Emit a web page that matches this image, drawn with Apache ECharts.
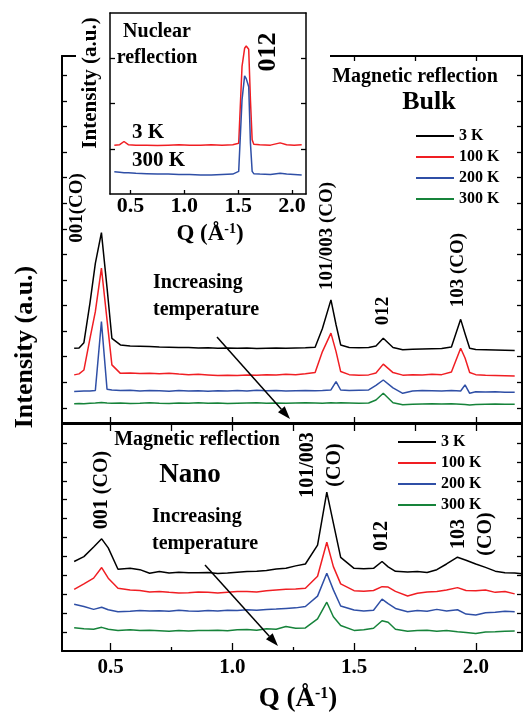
<!DOCTYPE html>
<html>
<head>
<meta charset="utf-8">
<script src="https://cdn.jsdelivr.net/npm/echarts@6/dist/echarts.min.js"></script>
<style>
html, body { margin: 0; padding: 0; background: #fff; }
#chart { width: 523px; height: 713px; }
</style>
</head>
<body>
<div id="chart"></div>
<script>
// values, arbitrary units (curves keep their vertical offsets)
const bulkQ = [0.35, 0.37, 0.39, 0.415, 0.437, 0.462, 0.485, 0.505, 0.54, 0.58,
  0.62, 0.66, 0.70, 0.74, 0.78, 0.82, 0.86, 0.90, 0.94, 0.98,
  1.02, 1.06, 1.10, 1.14, 1.18, 1.22, 1.26, 1.30, 1.34, 1.37,
  1.405, 1.426, 1.445, 1.48, 1.52, 1.56, 1.59, 1.62, 1.66, 1.70,
  1.74, 1.78, 1.82, 1.86, 1.90, 1.938, 1.956, 1.975, 2.00, 2.04,
  2.08, 2.12, 2.16]
const bulk3K = [2.33, 2.34, 2.55, 4.10, 5.65, 6.85, 4.70, 2.72, 2.46, 2.42,
  2.41, 2.40, 2.38, 2.37, 2.36, 2.36, 2.34, 2.35, 2.33, 2.34,
  2.33, 2.34, 2.32, 2.33, 2.34, 2.33, 2.34, 2.35, 2.37, 3.10,
  4.22, 3.25, 2.46, 2.36, 2.35, 2.36, 2.42, 2.72, 2.36, 2.27,
  2.29, 2.30, 2.31, 2.32, 2.38, 3.46, 2.90, 2.33, 2.28, 2.27,
  2.26, 2.25, 2.24]
const bulk100K = [1.29, 1.33, 1.48, 2.72, 3.76, 5.46, 3.44, 1.68, 1.35, 1.36,
  1.34, 1.35, 1.33, 1.35, 1.32, 1.30, 1.31, 1.29, 1.27, 1.28,
  1.27, 1.29, 1.28, 1.30, 1.29, 1.31, 1.30, 1.33, 1.38, 2.20,
  2.92, 2.20, 1.42, 1.30, 1.28, 1.29, 1.36, 1.71, 1.38, 1.28,
  1.30, 1.29, 1.31, 1.30, 1.40, 2.33, 1.95, 1.38, 1.30, 1.28,
  1.27, 1.26, 1.25]
const bulk200K = [0.64, 0.65, 0.66, 0.66, 0.68, 3.37, 0.73, 0.70, 0.68, 0.69,
  0.66, 0.68, 0.67, 0.65, 0.68, 0.66, 0.67, 0.65, 0.67, 0.66,
  0.68, 0.66, 0.69, 0.67, 0.68, 0.66, 0.67, 0.68, 0.67, 0.68,
  0.70, 1.03, 0.70, 0.68, 0.69, 0.70, 0.88, 1.09, 0.78, 0.57,
  0.66, 0.68, 0.67, 0.66, 0.68, 0.66, 0.90, 0.57, 0.63, 0.62,
  0.63, 0.61, 0.61]
const bulk300K = [0.16, 0.17, 0.16, 0.18, 0.19, 0.21, 0.19, 0.18, 0.19, 0.17,
  0.18, 0.20, 0.18, 0.17, 0.19, 0.18, 0.20, 0.18, 0.19, 0.17,
  0.18, 0.19, 0.20, 0.18, 0.19, 0.18, 0.19, 0.20, 0.19, 0.18,
  0.20, 0.19, 0.20, 0.19, 0.18, 0.19, 0.31, 0.57, 0.20, 0.12,
  0.14, 0.15, 0.16, 0.15, 0.16, 0.14, 0.13, 0.11, 0.13, 0.14,
  0.15, 0.14, 0.14]

const nanoQ = [0.35, 0.39, 0.43, 0.463, 0.49, 0.53, 0.58, 0.62, 0.66, 0.70,
  0.74, 0.78, 0.82, 0.86, 0.90, 0.94, 0.98, 1.02, 1.06, 1.10,
  1.14, 1.18, 1.22, 1.26, 1.30, 1.35, 1.388, 1.415, 1.445, 1.50,
  1.54, 1.58, 1.615, 1.64, 1.67, 1.72, 1.76, 1.80, 1.84, 1.88,
  1.925, 1.96, 2.00, 2.04, 2.08, 2.12, 2.16, 2.19]
const nano3K = [4.73, 4.99, 5.50, 5.93, 5.45, 4.32, 4.37, 4.30, 4.11, 4.20,
  4.12, 4.16, 4.14, 4.13, 4.15, 4.10, 4.12, 4.16, 4.20, 4.22,
  4.25, 4.33, 4.37, 4.50, 4.60, 5.60, 8.40, 6.76, 4.95, 4.37,
  4.35, 4.37, 4.73, 4.45, 4.21, 4.18, 4.20, 4.15, 4.30, 4.60,
  4.96, 4.80, 4.60, 4.42, 4.22, 4.14, 4.12, 4.08]
const nano100K = [3.26, 3.55, 3.85, 4.41, 3.85, 3.32, 3.22, 3.20, 3.12, 3.15,
  3.10, 3.07, 3.08, 3.12, 3.10, 3.06, 3.10, 3.14, 3.15, 3.12,
  3.18, 3.22, 3.26, 3.28, 3.32, 3.95, 5.75, 4.46, 3.55, 3.19,
  3.16, 3.20, 3.40, 3.38, 3.15, 2.91, 3.05, 3.12, 3.15, 3.22,
  3.35, 3.20, 3.18, 3.22, 3.10, 3.15, 3.02]
const nano200K = [2.47, 2.35, 2.20, 2.31, 2.18, 2.08, 2.10, 2.14, 2.11, 2.13,
  2.10, 2.15, 2.12, 2.10, 2.14, 2.12, 2.16, 2.14, 2.18, 2.15,
  2.20, 2.22, 2.25, 2.28, 2.35, 2.90, 4.11, 3.23, 2.38, 2.17,
  2.12, 2.15, 2.74, 2.50, 2.25, 2.08, 2.14, 2.10, 2.20, 2.12,
  2.18, 1.95, 1.90, 2.02, 2.05, 2.10, 2.08]
const nano300K = [1.23, 1.18, 1.15, 1.25, 1.15, 1.09, 1.12, 1.08, 1.10, 1.07,
  1.04, 1.08, 1.06, 1.09, 1.08, 1.10, 1.07, 1.12, 1.14, 1.10,
  1.18, 1.15, 1.29, 1.20, 1.22, 1.70, 2.58, 1.81, 1.35, 1.09,
  1.12, 1.20, 1.60, 1.52, 1.15, 1.05, 1.08, 1.10, 1.05, 1.08,
  1.02, 0.98, 0.92, 1.00, 1.02, 1.05, 1.06]

// inset: nuclear 012 reflection
const insetQ = [0.35, 0.40, 0.44, 0.48, 0.55, 0.65, 0.75, 0.85, 0.95, 1.05,
  1.15, 1.25, 1.35, 1.45, 1.505, 1.536, 1.56, 1.575, 1.598, 1.614,
  1.63, 1.645, 1.70, 1.80, 1.89, 1.95, 2.02, 2.09]
const inset3K = [1.08, 1.09, 1.16, 1.09, 1.08, 1.08, 1.07, 1.08, 1.09, 1.08,
  1.08, 1.09, 1.08, 1.09, 1.12, 2.82, 3.22, 3.27, 3.20, 2.08,
  1.20, 1.10, 1.09, 1.08, 1.13, 1.09, 1.08, 1.09]
const inset300K = [0.49, 0.48, 0.47, 0.47, 0.46, 0.45, 0.44, 0.44, 0.43, 0.43,
  0.42, 0.42, 0.43, 0.44, 0.50, 2.08, 2.61, 2.55, 2.37, 1.13,
  0.50, 0.45, 0.44, 0.43, 0.46, 0.44, 0.43, 0.42]

const temps = ['3 K', '100 K', '200 K', '300 K']
const colors = ['#000000', '#f01e23', '#2f4fa6', '#16833a']
const qMajor = [0.5, 1.0, 1.5, 2.0]
const qMinor = [0.75, 1.25, 1.75]
const qAll = [0.5, 0.75, 1.0, 1.25, 1.5, 1.75, 2.0]
const bulkTicks = [0, 1, 2, 3, 4, 5, 6, 7, 8, 9, 10, 11, 12, 13]
const nanoTicks = [1, 2, 3, 4, 5, 6, 7, 8, 9, 10, 11]
const insetTicks = [1, 2, 3]

const serif = '"Liberation Serif", "Times New Roman", serif'

function zip(q, v) {
    return q.map((x, i) => [x, v[i]]).filter(p => p[1] != null)
}

function xAx(grid, pos, o) {
    o = o || {}
    return {
        type: 'value', gridIndex: grid, position: pos,
        min: o.min != null ? o.min : 0.3, max: o.max != null ? o.max : 2.19,
        z: o.z || 0,
        axisLine: {show: o.line !== false, onZero: false, lineStyle: {color: '#000', width: o.lw || 2}},
        axisTick: {show: !!o.ticks, inside: true, length: o.len || 6, customValues: o.ticks,
            lineStyle: {color: '#000', width: 1.3}},
        axisLabel: o.labels ? {
            show: true, customValues: qMajor, margin: o.margin || 5,
            formatter: v => v.toFixed(1),
            color: '#000', fontFamily: serif, fontWeight: 'bold', fontSize: o.fs || 21
        } : {show: false},
        splitLine: {show: false}
    }
}

function yAx(grid, pos, min, max, ticks, o) {
    o = o || {}
    return {
        type: 'value', gridIndex: grid, position: pos, min: min, max: max,
        z: o.z || 0, show: o.show !== false,
        axisLine: {show: true, onZero: false, lineStyle: {color: '#000', width: o.lw || 2}},
        axisTick: {show: true, inside: true, length: o.len || 5, customValues: ticks,
            lineStyle: {color: '#000', width: 1.3}},
        axisLabel: {show: false},
        splitLine: {show: false}
    }
}

function line(name, data, color, xi, yi, z) {
    return {
        name: name, type: 'line', data: data, xAxisIndex: xi, yAxisIndex: yi,
        showSymbol: false, symbol: 'none', z: z || 2, animation: false,
        itemStyle: {color: color},
        lineStyle: {color: color, width: 1.5}
    }
}

function txt(text, x, y, size, extra) {
    return Object.assign({
        type: 'text', x: x, y: y, z: 20,
        style: {
            text: text, font: 'bold ' + size + 'px ' + serif, fill: '#000',
            textAlign: 'center', textVerticalAlign: 'middle', align: 'center', verticalAlign: 'middle'
        }
    }, extra || {})
}

function vtxt(text, x, y, size, lh) {
    let t = txt(text, x, y, size, {rotation: Math.PI / 2})
    if (lh) t.style.lineHeight = lh
    return t
}

function qTitle(x, y, size) {
    let t = txt('{a|Q (Å}{s|-1}{a|)}', x, y, size)
    t.style.rich = {
        a: {font: 'bold ' + size + 'px ' + serif, fill: '#000'},
        s: {font: 'bold ' + Math.round(size * 0.6) + 'px ' + serif, fill: '#000', verticalAlign: 'top'}
    }
    return t
}

function arrow(x1, y1, x2, y2) {
    let a = Math.atan2(y2 - y1, x2 - x1), L = 13, W = 4.5
    let bx = x2 - L * Math.cos(a), by = y2 - L * Math.sin(a)
    let px = -Math.sin(a) * W, py = Math.cos(a) * W
    return [
        {type: 'line', z: 20, shape: {x1: x1, y1: y1, x2: bx, y2: by}, style: {stroke: '#000', lineWidth: 1.5}},
        {type: 'polygon', z: 20, shape: {points: [[x2, y2], [bx + px, by + py], [bx - px, by - py]]},
            style: {fill: '#000'}}
    ]
}

function legendAt(left, top) {
    return {
        data: temps, orient: 'vertical', left: left, top: top, padding: 0,
        itemWidth: 38, itemHeight: 2, itemGap: 5, icon: 'rect',
        selectedMode: false,
        textStyle: {color: '#000', fontFamily: serif, fontWeight: 'bold', fontSize: 16, lineHeight: 16}
    }
}

const bulkSets = [bulk3K, bulk100K, bulk200K, bulk300K]
const nanoSets = [nano3K, nano100K, nano200K, nano300K]

let series = []
bulkSets.forEach((v, i) => series.push(line(temps[i], zip(bulkQ, v), colors[i], 0, 0)))
nanoSets.forEach((v, i) => series.push(line(temps[i], zip(nanoQ, v), colors[i], 2, 2)))
series.push(line('inset 3 K', zip(insetQ, inset3K), colors[1], 5, 4, 12))
series.push(line('inset 300 K', zip(insetQ, inset300K), colors[2], 5, 4, 12))

let options = {
    backgroundColor: '#fff',
    animation: false,
    grid: [
        {left: 62, right: 1, top: 56, height: 367},
        {left: 62, right: 1, top: 424, height: 227},
        {left: 110, top: 13, width: 196, height: 181},
        {left: 62, right: 1, top: 424, height: 227}
    ],
    xAxis: [
        xAx(0, 'bottom', {ticks: qMajor, len: 6}),
        xAx(0, 'top', {ticks: qAll, len: 5}),
        xAx(1, 'bottom', {ticks: qMajor, len: 8, labels: true, margin: 6, fs: 21}),
        xAx(1, 'top', {ticks: qAll, len: 7}),
        xAx(3, 'bottom', {ticks: qMinor, len: 4, line: false}),
        xAx(2, 'bottom', {min: 0.31, max: 2.13, ticks: qMajor, len: 4, labels: true, margin: 1, fs: 22, z: 10, lw: 1.5}),
        xAx(2, 'top', {min: 0.31, max: 2.13, z: 10, lw: 1.5})
    ],
    yAxis: [
        yAx(0, 'left', -0.59, 13.75, bulkTicks),
        yAx(0, 'right', -0.59, 13.75, bulkTicks),
        yAx(1, 'left', 0, 12, nanoTicks),
        yAx(1, 'right', 0, 12, nanoTicks),
        yAx(2, 'left', 0, 4, insetTicks, {z: 10, lw: 1.5}),
        yAx(2, 'right', 0, 4, insetTicks, {z: 10, lw: 1.5}),
        yAx(3, 'left', 0, 12, [], {show: false})
    ],
    legend: [legendAt(416, 128), legendAt(398, 434)],
    series: series,
    graphic: {
        elements: [
            // inset sits over the top frame of the bulk panel
            {type: 'rect', z: 5, shape: {x: 76, y: 50, width: 254, height: 12}, style: {fill: '#fff'}},
            vtxt('Intensity (a.u.)', 25, 347, 26),
            qTitle(298, 699, 27),
            // inset
            vtxt('Intensity (a.u.)', 91, 83, 21),
            qTitle(210, 234, 23),
            Object.assign(txt('Nuclear\nreflection', 157, 45, 20), {}),
            vtxt('012', 268, 52, 26),
            Object.assign(txt('3 K', 132, 133, 21), {}),
            Object.assign(txt('300 K', 132, 161, 21), {}),
            // bulk panel
            txt('Magnetic reflection', 415, 77, 20),
            txt('Bulk', 429, 102, 26),
            vtxt('001(CO)', 77, 208, 19),
            vtxt('101/003 (CO)', 327, 236, 19),
            vtxt('012', 383, 311, 19),
            vtxt('103 (CO)', 458, 270, 19),
            txt('Increasing\ntemperature', 153, 296, 20),
            // nano panel
            txt('Magnetic reflection', 197, 440, 20),
            txt('Nano', 190, 475, 27),
            vtxt('001 (CO)', 102, 490, 20),
            vtxt('101/003\n(CO)', 321, 465, 20, 27),
            vtxt('012', 382, 536, 20),
            vtxt('103\n(CO)', 472, 534, 20, 27),
            txt('Increasing\ntemperature', 152, 530, 20)
        ].concat(arrow(217, 337, 290, 419), arrow(205, 565, 278, 646))
    }
}

// left-aligned texts
options.graphic.elements.forEach(e => {
    if (e.style && (e.style.text === 'Increasing\ntemperature' || e.style.text === '3 K' || e.style.text === '300 K')) {
        e.style.textAlign = 'left'
        e.style.align = 'left'
        if (e.style.text === 'Increasing\ntemperature') e.style.lineHeight = 27
    }
    if (e.style && e.style.text === 'Nuclear\nreflection') e.style.lineHeight = 26
})

let chart = echarts.init(document.getElementById('chart'), null, {renderer: 'canvas'})
chart.setOption(options)
</script>
</body>
</html>
